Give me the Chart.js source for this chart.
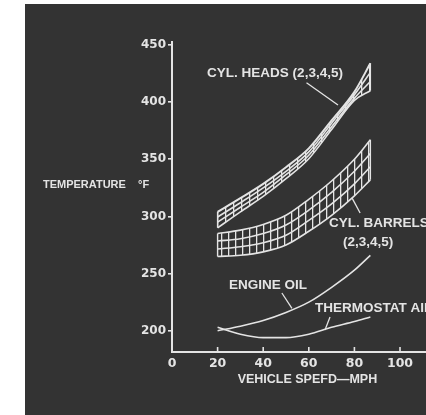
<!DOCTYPE html>
<html lang="en">
<head>
<meta charset="UTF-8">
<title>Temperature vs vehicle speed</title>
<script src="https://cdn.jsdelivr.net/npm/chart.js"></script>
<style>
    html, body { margin: 0; padding: 0; background: #fff; }
    #wrap {
        position: absolute;
        left: 25px;
        top: 4px;
        width: 401px;
        height: 411px;
        background: #333;
    }
</style>
</head>
<body>
<div id="wrap"><canvas id="chart"></canvas></div>
<script>
var speeds = [20, 30, 40, 50, 60, 70, 80, 87];

// cylinder heads band, four lines from top to bottom (deg F)
var headsTop    = [304, 316, 328.5, 343, 359.5, 384, 409, 434];
var headsMid1   = [299.5, 312, 325, 339.5, 356.5, 381.5, 406.5, 426];
var headsMid2   = [295, 308, 321, 336.5, 353.5, 378.5, 403.5, 418];
var headsBottom = [290, 304, 317.5, 333, 350.5, 376, 401.5, 410];

// cylinder barrels band
var barrelsTop    = [285, 288, 293, 301, 315, 331, 350, 367];
var barrelsMid1   = [278.5, 280.5, 285, 292.5, 305.5, 321, 339.5, 355];
var barrelsMid2   = [271.5, 273.5, 277, 283.5, 296.5, 311, 328.5, 343.5];
var barrelsBottom = [265, 266, 269, 275, 287, 301, 318, 332];

var engineOil  = [200, 204, 209, 216, 225, 238, 253, 266];
var thermoAir  = [203, 197, 194, 194, 197, 203, 208, 212];

var xTicks = [0, 20, 40, 60, 80, 100];
var yTicks = [200, 250, 300, 350, 400, 450];

// leader lines from the labels to the curves [speed, temp]
var leaders = [
    [[59, 417], [72.8, 397.5]],
    [[82.5, 303], [79, 316]],
    [[48.2, 233], [52.6, 219.5]],
    [[69.3, 212], [67.1, 200.6]]
];

var ink = '#e4e4e4';
var labelFont = 'bold 13.5px "Liberation Sans", Arial, sans-serif';

// text placed in data coordinates
var notes = [
    { text: 'CYL. HEADS (2,3,4,5)', x: 15.4, y: 425.5, align: 'left', font: labelFont },
    { text: 'CYL. BARRELS', x: 68.9, y: 294.2, align: 'left', font: labelFont },
    { text: '(2,3,4,5)', x: 86, y: 277.6, align: 'center', font: labelFont },
    { text: 'ENGINE OIL', x: 25, y: 240, align: 'left', font: labelFont },
    { text: 'THERMOSTAT AIR', x: 62.7, y: 219.9, align: 'left', font: labelFont },
    { text: 'TEMPERATURE', x: -56.6, y: 327.5, align: 'left', font: 'bold 11px "Liberation Sans", Arial, sans-serif' },
    { text: '°F', x: -14.9, y: 327.5, align: 'left', font: 'bold 11px "Liberation Sans", Arial, sans-serif' },
    { text: 'VEHICLE SPEFD—MPH', x: 59.4, y: 156.9, align: 'center', font: 'bold 12.5px "Liberation Sans", Arial, sans-serif' }
];

// vertical hatch used between the band edges
function hatch(step) {
    var c = document.createElement('canvas');
    c.width = step;
    c.height = 8;
    var g = c.getContext('2d');
    g.strokeStyle = ink;
    g.lineWidth = 1.3;
    g.beginPath();
    g.moveTo(0.65, 0);
    g.lineTo(0.65, 8);
    g.stroke();
    return g.createPattern(c, 'repeat');
}

function curve(values, extra) {
    return Object.assign({
        data: speeds.map(function (s, i) { return { x: s, y: values[i] }; }),
        borderColor: ink,
        borderWidth: 1.6,
        pointRadius: 0,
        fill: false,
        cubicInterpolationMode: 'monotone'
    }, extra || {});
}

function segment(a, b, w) {
    return {
        data: [{ x: a[0], y: a[1] }, { x: b[0], y: b[1] }],
        borderColor: ink,
        borderWidth: w || 1.4,
        pointRadius: 0,
        fill: false
    };
}

var last = speeds.length - 1;
var datasets = [
    curve(headsTop, { fill: '+3', backgroundColor: hatch(8), borderWidth: 2 }),
    curve(headsMid1),
    curve(headsMid2),
    curve(headsBottom),
    curve(barrelsTop, { fill: '+3', backgroundColor: hatch(7) }),
    curve(barrelsMid1),
    curve(barrelsMid2),
    curve(barrelsBottom),
    curve(engineOil),
    curve(thermoAir),
    // band end edges
    segment([speeds[0], headsTop[0]], [speeds[0], headsBottom[0]]),
    segment([speeds[last], headsTop[last]], [speeds[last], headsBottom[last]]),
    segment([speeds[0], barrelsTop[0]], [speeds[0], barrelsBottom[0]]),
    segment([speeds[last], barrelsTop[last]], [speeds[last], barrelsBottom[last]])
];
leaders.forEach(function (l) { datasets.push(segment(l[0], l[1], 1.3)); });

// texts and the small inward ticks on the speed axis
var extras = {
    id: 'extras',
    afterDraw: function (chart) {
        var ctx = chart.ctx, xs = chart.scales.x, ys = chart.scales.y;
        ctx.save();
        ctx.strokeStyle = ink;
        ctx.lineWidth = 1.6;
        xTicks.forEach(function (v) {
            if (v === 0) return;
            var px = xs.getPixelForValue(v);
            ctx.beginPath();
            ctx.moveTo(px, chart.chartArea.bottom);
            ctx.lineTo(px, chart.chartArea.bottom - 5);
            ctx.stroke();
        });
        ctx.fillStyle = ink;
        ctx.textBaseline = 'middle';
        notes.forEach(function (n) {
            ctx.font = n.font;
            ctx.textAlign = n.align;
            ctx.fillText(n.text, xs.getPixelForValue(n.x), ys.getPixelForValue(n.y));
        });
        ctx.restore();
    }
};

var tickFont = { family: 'DejaVu Sans', weight: 'bold', size: 12 };

new Chart(document.getElementById('chart'), {
    type: 'line',
    data: { datasets: datasets },
    options: {
        responsive: true,
        maintainAspectRatio: false,
        animation: false,
        layout: { padding: { top: 38, left: 0, right: 0, bottom: 0 } },
        plugins: { legend: { display: false }, tooltip: { enabled: false } },
        scales: {
            x: {
                type: 'linear',
                min: 0,
                max: 111.4,
                afterBuildTicks: function (s) { s.ticks = xTicks.map(function (v) { return { value: v }; }); },
                afterFit: function (s) { s.height = 63; },
                border: { color: ink, width: 2 },
                grid: { drawOnChartArea: false, drawTicks: false },
                ticks: { color: ink, font: { family: 'DejaVu Sans', weight: 'bold', size: 12.5 }, padding: 4, maxRotation: 0 }
            },
            y: {
                type: 'linear',
                min: 181.4,
                max: 452.6,
                afterBuildTicks: function (s) { s.ticks = yTicks.map(function (v) { return { value: v }; }); },
                afterFit: function (s) { s.width = 147; },
                border: { color: ink, width: 2 },
                grid: { drawOnChartArea: false, drawTicks: true, tickLength: 4, color: ink, lineWidth: 1.6 },
                ticks: { color: ink, font: tickFont, padding: 2 }
            }
        }
    },
    plugins: [extras]
});
</script>
</body>
</html>
